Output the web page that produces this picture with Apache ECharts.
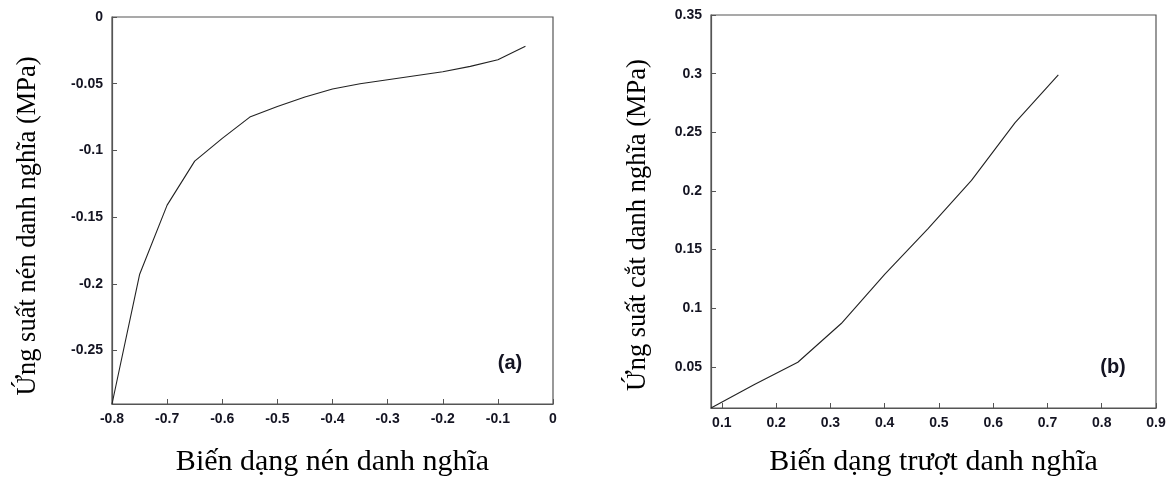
<!DOCTYPE html>
<html>
<head>
<meta charset="utf-8">
<script src="https://cdn.jsdelivr.net/npm/echarts@6/dist/echarts.min.js"></script>
<style>
html,body{margin:0;padding:0;background:#fff;}
#c{width:1172px;height:477px;}
</style>
</head>
<body>
<div id="c"></div>
<script>
// Panel (a): compressive
const strainA = [-0.8, -0.75, -0.7, -0.65, -0.6, -0.55, -0.5, -0.45, -0.4, -0.35, -0.3, -0.25, -0.2, -0.15, -0.1, -0.05];
const stressA = [-0.29, -0.193, -0.141, -0.108, -0.091, -0.075, -0.067, -0.060, -0.054, -0.050, -0.047, -0.044, -0.041, -0.037, -0.032, -0.022];
// Panel (b): shear
const strainB = [0.08, 0.16, 0.24, 0.32, 0.4, 0.48, 0.56, 0.64, 0.72];
const stressB = [0.015, 0.035, 0.054, 0.087, 0.129, 0.168, 0.209, 0.258, 0.299];

const titleXA = 'Biến dạng nén danh nghĩa';
const titleYA = 'Ứng suất nén danh nghĩa (MPa)';
const titleXB = 'Biến dạng trượt danh nghĩa';
const titleYB = 'Ứng suất cắt danh nghĩa (MPa)';
const panelA = '(a)';
const panelB = '(b)';

const chart = echarts.init(document.getElementById('c'));
const axisColor = '#555';
const labelStyle = {color: '#141422', fontFamily: 'Liberation Sans, Arial, sans-serif', fontWeight: 'bold', fontSize: 14};
const nameStyleX = {color: '#000', fontFamily: 'Liberation Serif, Times New Roman, serif', fontSize: 30};
const yTitleFont = '26.5px Liberation Serif, Times New Roman, serif';

function xAxisCfg(idx, min, max, extra, name, gap) {
  return Object.assign({
    type: 'value', gridIndex: idx, min: min, max: max,
    name: name, nameLocation: 'middle', nameGap: gap, nameTextStyle: nameStyleX,
    axisLine: {show: true, onZero: false, lineStyle: {color: axisColor, width: 1.2}},
    axisTick: {show: true, inside: true, length: 5, lineStyle: {color: axisColor}},
    axisLabel: Object.assign({margin: 8}, labelStyle),
    splitLine: {show: false}
  }, extra);
}
function yAxisCfg(idx, min, max, extra) {
  return Object.assign({
    type: 'value', gridIndex: idx, min: min, max: max,
    axisLine: {show: true, onZero: false, lineStyle: {color: axisColor, width: 1.2}},
    axisTick: {show: true, inside: true, length: 5, lineStyle: {color: axisColor}},
    axisLabel: Object.assign({margin: 9, showMinLabel: false}, labelStyle),
    splitLine: {show: false}
  }, extra);
}

chart.setOption({
  animation: false,
  backgroundColor: '#fff',
  grid: [
    {left: 112, top: 17, width: 441, height: 387, show: true, borderColor: axisColor, borderWidth: 1.2, containLabel: false, outerBoundsMode: 'none'},
    {left: 711, top: 15, width: 445, height: 393, show: true, borderColor: axisColor, borderWidth: 1.2, containLabel: false, outerBoundsMode: 'none'}
  ],
  xAxis: [
    xAxisCfg(0, -0.8, 0, {interval: 0.1}, titleXA, 43),
    xAxisCfg(1, 0.08, 0.9, {splitNumber: 8, axisLabel: Object.assign({margin: 8, showMinLabel: false}, labelStyle)}, titleXB, 39)
  ],
  yAxis: [
    yAxisCfg(0, -0.29, 0, {}),
    yAxisCfg(1, 0.015, 0.35, {})
  ],
  series: [
    {type: 'line', xAxisIndex: 0, yAxisIndex: 0, data: strainA.map((x, i) => [x, stressA[i]]),
     symbol: 'none', smooth: false, lineStyle: {color: '#222', width: 1.1}},
    {type: 'line', xAxisIndex: 1, yAxisIndex: 1, data: strainB.map((x, i) => [x, stressB[i]]),
     symbol: 'none', smooth: false, lineStyle: {color: '#222', width: 1.1}}
  ],
  graphic: [
    {type: 'text', x: 28, y: 226, rotation: Math.PI / 2, style: {text: titleYA, fill: '#000', align: 'center', verticalAlign: 'middle', font: yTitleFont}},
    {type: 'text', x: 638, y: 225, rotation: Math.PI / 2, style: {text: titleYB, fill: '#000', align: 'center', verticalAlign: 'middle', font: yTitleFont}},
    {type: 'text', x: 510, y: 363, style: {text: panelA, fill: '#141422', align: 'center', verticalAlign: 'middle', font: 'bold 20px Liberation Sans, Arial, sans-serif'}},
    {type: 'text', x: 1113, y: 367, style: {text: panelB, fill: '#141422', align: 'center', verticalAlign: 'middle', font: 'bold 20px Liberation Sans, Arial, sans-serif'}}
  ]
});
</script>
</body>
</html>
